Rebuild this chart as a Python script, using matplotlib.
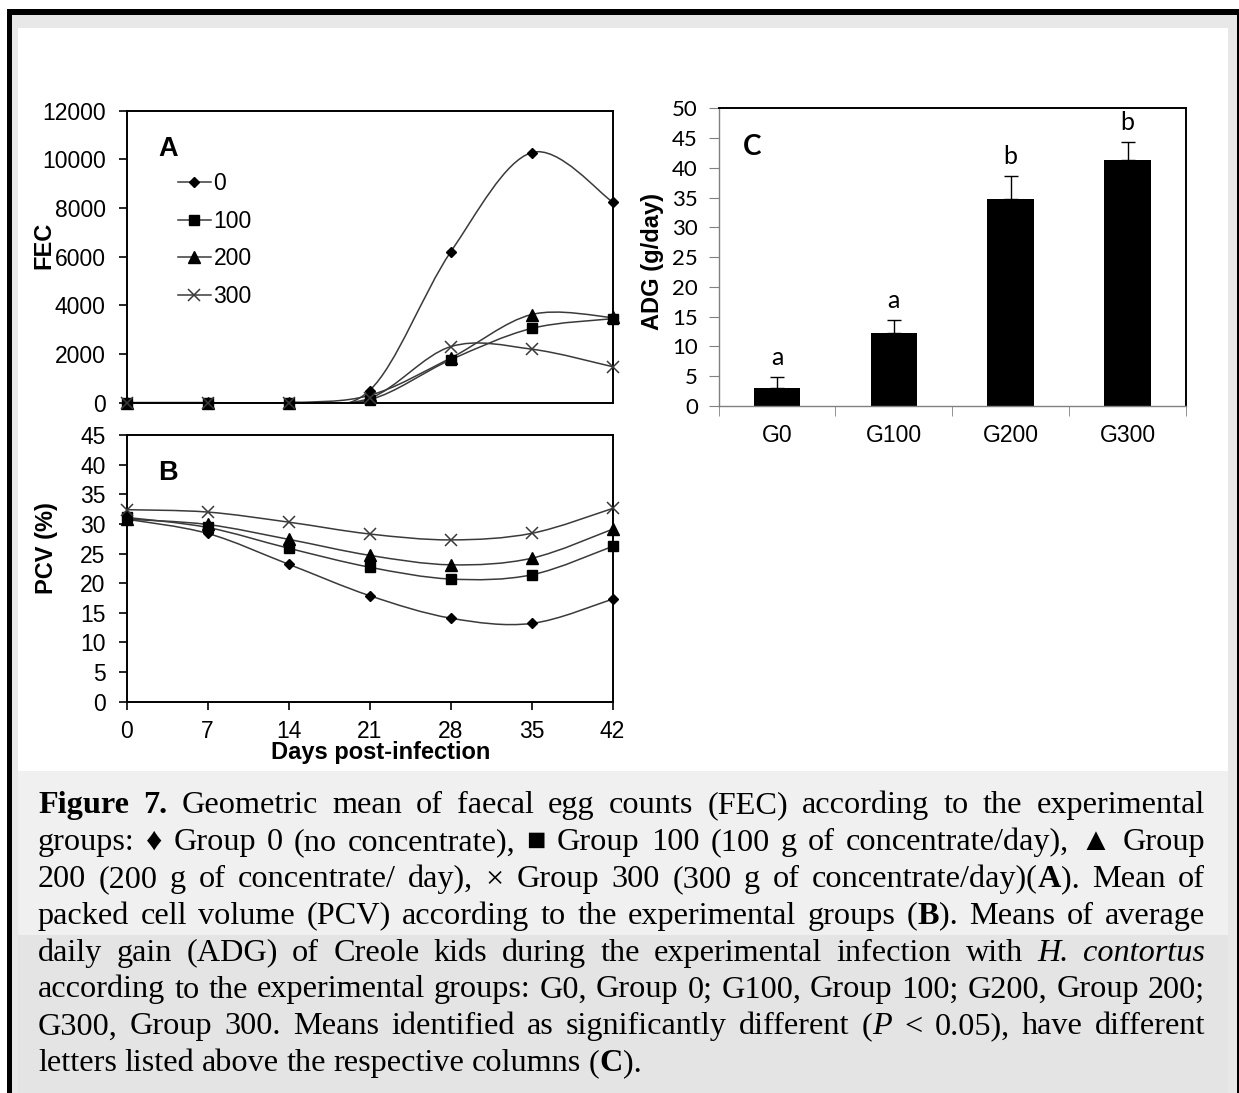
import re

import matplotlib
matplotlib.use("Agg")
import matplotlib.pyplot as plt
from matplotlib.path import Path
from matplotlib.patches import PathPatch, Rectangle
from matplotlib.lines import Line2D
import numpy as np

W, H = 1239, 1093

# data
days = [0, 7, 14, 21, 28, 35, 42]
groups = ["0", "100", "200", "300"]

fec_g0 = [0, 0, 0, 500, 6180, 10270, 8250]
fec_g100 = [0, 0, 0, 120, 1760, 3050, 3450]
fec_g200 = [0, 0, 0, 300, 1830, 3620, 3500]
fec_g300 = [0, 0, 0, 180, 2300, 2200, 1480]

pcv_g0 = [30.8, 28.4, 23.2, 17.9, 14.1, 13.2, 17.3]
pcv_g100 = [31.1, 29.4, 25.9, 22.7, 20.7, 21.4, 26.2]
pcv_g200 = [30.8, 29.9, 27.4, 24.7, 23.1, 24.2, 29.1]
pcv_g300 = [32.4, 32.0, 30.3, 28.3, 27.3, 28.4, 32.6]

adg_labels = ["G0", "G100", "G200", "G300"]
adg = [3.0, 12.3, 34.7, 41.4]
adg_err = [1.9, 2.1, 3.9, 2.9]
adg_letters = ["a", "a", "b", "b"]

caption = [
    "**Figure** **7.** Geometric mean of faecal egg counts (FEC) according to the experimental",
    "groups: \u2666 Group 0 (no concentrate), \u25a0 Group 100 (100 g of concentrate/day), \u25b2 Group",
    "200 (200 g of concentrate/ day), \u00d7 Group 300 (300 g of concentrate/day)(**A**). Mean of",
    "packed cell volume (PCV) according to the experimental groups (**B**). Means of average",
    "daily gain (ADG) of Creole kids during the experimental infection with *H.* *contortus*",
    "according to the experimental groups: G0, Group 0; G100, Group 100; G200, Group 200;",
    "G300, Group 300. Means identified as significantly different (*P* < 0.05), have different",
    "letters listed above the respective columns (**C**).",
]

ARIAL = "Liberation Sans"
LINE_C = "#3a3a3a"
markers = {
    "0": dict(marker="D", ms=5.5, mfc="k", mec="k"),
    "100": dict(marker="s", ms=7.5, mfc="k", mec="k"),
    "200": dict(marker="^", ms=8, mfc="k", mec="k"),
    "300": dict(marker="x", ms=9, mew=1.1, mec=LINE_C),
}


def smooth(xs, ys):
    # excel style smoothed line: cubic bezier through the points
    pts = np.column_stack([xs, ys]).astype(float)
    n = len(pts)
    verts = [pts[0]]
    codes = [Path.MOVETO]
    for i in range(n - 1):
        p0 = pts[max(i - 1, 0)]
        p1 = pts[i]
        p2 = pts[i + 1]
        p3 = pts[min(i + 2, n - 1)]
        verts += [p1 + (p2 - p0) / 6, p2 - (p3 - p1) / 6, p2]
        codes += [Path.CURVE4] * 3
    return Path(verts, codes)


def draw_series(ax, series):
    for g, vals in zip(groups, series):
        ax.add_patch(PathPatch(smooth(days, vals), fill=False, edgecolor=LINE_C, lw=1.1, zorder=2))
        ax.plot(days, vals, ls="none", clip_on=False, zorder=3, **markers[g])


def frame(ax, lw=1.4):
    for s in ax.spines.values():
        s.set_linewidth(lw)
        s.set_color("black")


fig = plt.figure(figsize=(W / 100, H / 100), dpi=100)

# background: page border and caption box
bg = fig.add_axes([0, 0, 1, 1], zorder=-10)
bg.set_xlim(0, W)
bg.set_ylim(H, 0)
bg.axis("off")
bg.add_patch(Rectangle((7, 9), W - 7, H - 9, color="black", lw=0))
bg.add_patch(Rectangle((12, 15), 1225, H - 15, color="#e8e8e8", lw=0))
bg.add_patch(Rectangle((18, 28), 1210, 743, color="white", lw=0))
bg.add_patch(Rectangle((18, 771), 1210, 164, color="#f0f0f0", lw=0))
bg.add_patch(Rectangle((18, 935), 1210, H - 935, color="#e4e4e4", lw=0))

# panel A
ax_a = fig.add_axes([126.5 / W, 1 - 402.7 / H, 486 / W, 292.2 / H])
draw_series(ax_a, [fec_g0, fec_g100, fec_g200, fec_g300])
ax_a.set_xlim(0, 42)
ax_a.set_ylim(0, 12000)
ax_a.set_yticks(range(0, 12001, 2000))
ax_a.set_xticks(days)
ax_a.tick_params(axis="x", length=0, labelbottom=False)
ax_a.tick_params(axis="y", length=6, width=1.2, pad=9, labelsize=16.5)
ax_a.set_ylabel("FEC", fontsize=17, fontweight="bold", family=ARIAL, va="center")
ax_a.yaxis.set_label_coords(-0.171, 0.54)
ax_a.text(0.066, 0.844, "A", transform=ax_a.transAxes, fontsize=19.5, fontweight="bold", family=ARIAL)
handles = [Line2D([], [], color=LINE_C, lw=1.1, **markers[g]) for g in groups]
ax_a.legend(handles, groups, loc="upper left", bbox_to_anchor=(0.105, 0.79), frameon=False,
            borderpad=0, borderaxespad=0, handlelength=1.45, handletextpad=0.12,
            labelspacing=0.64, prop=dict(family=ARIAL, size=16.5))
frame(ax_a)

# panel B
ax_b = fig.add_axes([126.5 / W, 1 - 701.7 / H, 486 / W, 266.7 / H])
draw_series(ax_b, [pcv_g0, pcv_g100, pcv_g200, pcv_g300])
ax_b.set_xlim(0, 42)
ax_b.set_ylim(0, 45)
ax_b.set_yticks(range(0, 46, 5))
ax_b.set_xticks(days)
ax_b.tick_params(axis="both", length=6, width=1.2, labelsize=16.5)
ax_b.tick_params(axis="y", pad=9)
ax_b.tick_params(axis="x", pad=7)
ax_b.set_ylabel("PCV (%)", fontsize=17, fontweight="bold", family=ARIAL, va="center")
ax_b.yaxis.set_label_coords(-0.164, 0.576)
ax_b.set_xlabel("Days post-infection", fontsize=17, fontweight="bold", family=ARIAL, va="center")
ax_b.xaxis.set_label_coords(0.522, -0.192)
ax_b.text(0.066, 0.831, "B", transform=ax_b.transAxes, fontsize=19.5, fontweight="bold", family=ARIAL)
frame(ax_b)

for ax in (ax_a, ax_b):
    for lab in ax.get_xticklabels() + ax.get_yticklabels():
        lab.set_family(ARIAL)

# panel C
ax_c = fig.add_axes([718.6 / W, 1 - 406 / H, 467.4 / W, 297.7 / H])
xc = np.arange(len(adg))
ax_c.bar(xc, adg, width=0.4, color="black", zorder=2)
ax_c.errorbar(xc, adg, yerr=[np.zeros(len(adg)), adg_err], fmt="none", ecolor="black",
              elinewidth=1.0, capsize=4.7, capthick=1.0, zorder=3)
for x, v, e, s in zip(xc, adg, adg_err, adg_letters):
    ax_c.text(x, v + e + 2, s, ha="center", va="baseline", fontsize=18, family="Lato")
ax_c.set_xlim(-0.5, 3.5)
ax_c.set_ylim(0, 50)
ax_c.set_yticks(range(0, 51, 5))
ax_c.set_xticks(xc, adg_labels, family=ARIAL, fontsize=16.5)
ax_c.set_xticks(np.arange(-0.5, 3.6, 1), minor=True)
ax_c.tick_params(axis="x", which="major", length=0, pad=13)
ax_c.tick_params(axis="x", which="minor", length=7, color="#808080")
ax_c.tick_params(axis="y", length=7, color="#808080", pad=8, labelsize=16)
for lab in ax_c.get_yticklabels():
    lab.set_family("Lato")
ax_c.set_ylabel("ADG (g/day)", fontsize=17, fontweight="bold", family=ARIAL, va="center")
ax_c.yaxis.set_label_coords(-0.141, 0.485)
ax_c.text(0.053, 0.843, "C", transform=ax_c.transAxes, fontsize=20, fontweight="bold", family="Lato")
frame(ax_c)
ax_c.spines["left"].set_color("#808080")
ax_c.spines["left"].set_linewidth(1.0)
ax_c.spines["bottom"].set_color("#808080")
ax_c.spines["bottom"].set_linewidth(1.0)

# justified caption
renderer = fig.canvas.get_renderer()
cap_family = ["Liberation Serif", "DejaVu Serif"]
left, right = 38, 1205
for k, line in enumerate(caption):
    y = 813 + 36.9 * k
    words = []
    for w in line.split(" "):
        runs = []
        for part in re.split(r"(\*\*[^*]+\*\*|\*[^*]+\*)", w):
            if not part:
                continue
            weight, style = "normal", "normal"
            if part.startswith("**"):
                part, weight = part[2:-2], "bold"
            elif part.startswith("*"):
                part, style = part[1:-1], "italic"
            t = bg.text(0, y, part, va="baseline", ha="left", fontsize=23.2,
                        family=cap_family, fontweight=weight, fontstyle=style)
            runs.append((t, t.get_window_extent(renderer).width))
        words.append(runs)
    widths = [sum(r[1] for r in runs) for runs in words]
    if k < len(caption) - 1:
        gap = (right - left - sum(widths)) / (len(words) - 1)
    else:
        gap = 7.5
    x = left
    for runs in words:
        for t, wpx in runs:
            t.set_x(x)
            x += wpx
        x += gap

fig.savefig("out.png", dpi=100)
